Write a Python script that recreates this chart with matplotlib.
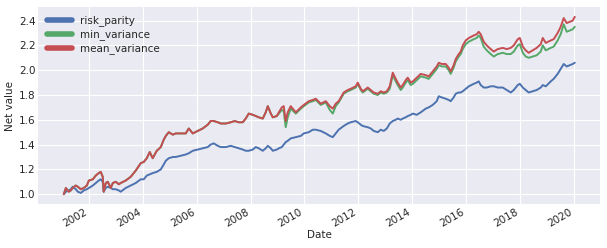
import pandas as pd
import matplotlib
matplotlib.use("Agg")
import matplotlib.pyplot as plt
import matplotlib.dates as mdates

# values
dates = [
    "2001-01-26", "2001-02-23", "2001-04-03", "2001-04-30", "2001-05-27", "2001-07-07",
    "2001-08-04", "2001-09-14", "2001-10-24", "2001-12-05", "2002-01-01", "2002-02-24",
    "2002-04-04", "2002-05-14", "2002-06-11", "2002-07-08", "2002-07-21", "2002-08-18",
    "2002-09-14", "2002-10-25", "2002-11-21", "2003-01-01", "2003-02-11", "2003-03-08",
    "2003-05-15", "2003-07-22", "2003-09-28", "2003-12-05", "2004-01-15", "2004-02-25",
    "2004-04-05", "2004-05-15", "2004-07-09", "2004-09-02", "2004-10-12", "2004-11-09",
    "2004-12-19", "2005-02-12", "2005-03-23", "2005-05-30", "2005-08-06", "2005-09-16",
    "2005-11-09", "2006-01-17", "2006-03-24", "2006-05-31", "2006-07-10", "2006-08-20",
    "2006-10-14", "2006-11-24", "2007-02-01", "2007-04-08", "2007-06-01", "2007-07-25",
    "2007-09-18", "2007-10-28", "2007-12-08", "2008-02-01", "2008-03-12", "2008-04-22",
    "2008-06-15", "2008-07-25", "2008-08-22", "2008-10-02", "2008-10-29", "2008-12-22",
    "2009-01-19", "2009-02-28", "2009-03-26", "2009-04-22", "2009-05-19", "2009-06-29",
    "2009-09-06", "2009-11-13", "2009-12-23", "2010-03-01", "2010-04-24", "2010-06-03",
    "2010-08-10", "2010-10-17", "2010-12-10", "2011-01-20", "2011-03-01", "2011-04-10",
    "2011-06-17", "2011-08-10", "2011-09-20", "2011-11-27", "2011-12-24", "2012-02-04",
    "2012-03-01", "2012-05-08", "2012-06-18", "2012-07-28", "2012-09-21", "2012-11-01",
    "2012-12-11", "2013-01-22", "2013-03-02", "2013-04-12", "2013-05-22", "2013-06-18",
    "2013-07-29", "2013-08-25", "2013-10-05", "2013-11-01", "2013-12-12", "2014-01-09",
    "2014-03-03", "2014-04-26", "2014-07-03", "2014-08-12", "2014-10-06", "2014-11-29",
    "2014-12-26", "2015-02-06", "2015-03-31", "2015-05-10", "2015-06-06", "2015-07-16",
    "2015-08-13", "2015-09-23", "2015-10-20", "2015-11-17", "2015-12-27", "2016-02-07",
    "2016-04-14", "2016-05-24", "2016-06-20", "2016-07-17", "2016-08-27", "2016-10-07",
    "2016-11-30", "2017-01-11", "2017-03-05", "2017-05-12", "2017-07-05", "2017-08-28",
    "2017-10-08", "2017-12-01", "2017-12-29", "2018-02-08", "2018-03-19", "2018-04-28",
    "2018-06-22", "2018-08-15", "2018-10-09", "2018-11-05", "2018-12-16", "2019-02-22",
    "2019-04-02", "2019-05-26", "2019-07-06", "2019-08-16", "2019-09-26", "2019-11-06",
    "2019-12-16", "2020-01-13",
]

risk_parity = [
    1.00, 1.02, 1.03, 1.04, 1.06, 1.04, 1.02, 1.01, 1.03, 1.04, 1.05, 1.07,
    1.09, 1.11, 1.12, 1.10, 1.02, 1.05, 1.06, 1.05, 1.04, 1.04, 1.03, 1.02,
    1.05, 1.07, 1.09, 1.12, 1.12, 1.15, 1.16, 1.17, 1.18, 1.20, 1.24, 1.27,
    1.29, 1.30, 1.30, 1.31, 1.32, 1.33, 1.35, 1.36, 1.37, 1.38, 1.40, 1.41,
    1.39, 1.38, 1.38, 1.39, 1.38, 1.37, 1.36, 1.35, 1.35, 1.36, 1.38, 1.37,
    1.35, 1.37, 1.39, 1.37, 1.35, 1.36, 1.37, 1.38, 1.40, 1.42, 1.43, 1.45,
    1.46, 1.47, 1.49, 1.50, 1.52, 1.52, 1.51, 1.49, 1.47, 1.46, 1.49, 1.52,
    1.55, 1.57, 1.58, 1.59, 1.58, 1.56, 1.55, 1.54, 1.53, 1.51, 1.50, 1.52,
    1.51, 1.53, 1.57, 1.59, 1.60, 1.61, 1.60, 1.61, 1.62, 1.63, 1.64, 1.65,
    1.64, 1.66, 1.69, 1.70, 1.72, 1.75, 1.79, 1.78, 1.77, 1.76, 1.75, 1.78,
    1.81, 1.82, 1.82, 1.83, 1.85, 1.87, 1.89, 1.90, 1.91, 1.88, 1.86, 1.86,
    1.87, 1.87, 1.86, 1.86, 1.84, 1.82, 1.84, 1.88, 1.89, 1.86, 1.84, 1.82,
    1.83, 1.84, 1.86, 1.88, 1.87, 1.91, 1.93, 1.97, 2.01, 2.05, 2.03, 2.04,
    2.05, 2.06,
]

mean_variance = [
    1.00, 1.05, 1.02, 1.03, 1.05, 1.07, 1.06, 1.04, 1.05, 1.07, 1.11, 1.12,
    1.15, 1.17, 1.18, 1.14, 1.02, 1.09, 1.10, 1.05, 1.09, 1.10, 1.08, 1.09,
    1.11, 1.14, 1.19, 1.25, 1.26, 1.29, 1.34, 1.29, 1.35, 1.38, 1.44, 1.47,
    1.50, 1.48, 1.49, 1.49, 1.49, 1.53, 1.49, 1.51, 1.53, 1.56, 1.59, 1.59,
    1.58, 1.57, 1.57, 1.58, 1.59, 1.58, 1.58, 1.61, 1.65, 1.64, 1.63, 1.62,
    1.61, 1.66, 1.71, 1.65, 1.62, 1.63, 1.66, 1.70, 1.71, 1.59, 1.66, 1.71,
    1.66, 1.70, 1.72, 1.75, 1.76, 1.77, 1.73, 1.75, 1.71, 1.69, 1.73, 1.75,
    1.82, 1.84, 1.85, 1.87, 1.90, 1.85, 1.83, 1.86, 1.84, 1.82, 1.81, 1.83,
    1.82, 1.83, 1.87, 1.98, 1.93, 1.90, 1.86, 1.88, 1.92, 1.94, 1.90, 1.91,
    1.94, 1.97, 1.96, 1.95, 1.99, 2.03, 2.06, 2.05, 2.05, 2.02, 1.99, 2.04,
    2.09, 2.13, 2.15, 2.20, 2.24, 2.26, 2.28, 2.29, 2.31, 2.29, 2.23, 2.20,
    2.17, 2.15, 2.17, 2.18, 2.17, 2.18, 2.20, 2.25, 2.26, 2.19, 2.16, 2.14,
    2.16, 2.18, 2.21, 2.26, 2.22, 2.24, 2.25, 2.30, 2.35, 2.42, 2.38, 2.39,
    2.40, 2.43,
]

min_variance = [
    1.00, 1.05, 1.02, 1.03, 1.05, 1.07, 1.06, 1.04, 1.05, 1.07, 1.11, 1.12,
    1.15, 1.17, 1.18, 1.14, 1.02, 1.09, 1.10, 1.05, 1.09, 1.10, 1.08, 1.09,
    1.11, 1.14, 1.19, 1.25, 1.26, 1.29, 1.34, 1.29, 1.35, 1.38, 1.44, 1.47,
    1.50, 1.48, 1.49, 1.49, 1.49, 1.53, 1.49, 1.51, 1.53, 1.56, 1.59, 1.59,
    1.58, 1.57, 1.57, 1.58, 1.59, 1.58, 1.58, 1.61, 1.65, 1.64, 1.63, 1.62,
    1.61, 1.66, 1.71, 1.65, 1.62, 1.63, 1.65, 1.68, 1.67, 1.54, 1.62, 1.69,
    1.65, 1.69, 1.71, 1.74, 1.75, 1.76, 1.72, 1.74, 1.68, 1.65, 1.71, 1.74,
    1.81, 1.83, 1.84, 1.86, 1.89, 1.84, 1.82, 1.85, 1.83, 1.81, 1.80, 1.82,
    1.81, 1.82, 1.85, 1.96, 1.91, 1.88, 1.84, 1.86, 1.90, 1.92, 1.88, 1.89,
    1.92, 1.95, 1.94, 1.93, 1.97, 2.01, 2.04, 2.03, 2.03, 2.00, 1.97, 2.02,
    2.07, 2.11, 2.13, 2.17, 2.21, 2.23, 2.25, 2.26, 2.28, 2.26, 2.19, 2.16,
    2.13, 2.11, 2.13, 2.14, 2.13, 2.13, 2.15, 2.20, 2.21, 2.14, 2.11, 2.10,
    2.11, 2.12, 2.15, 2.20, 2.16, 2.18, 2.19, 2.24, 2.29, 2.37, 2.31, 2.32,
    2.33, 2.35,
]

df = pd.DataFrame({
    "risk_parity": risk_parity,
    "min_variance": min_variance,
    "mean_variance": mean_variance,
}, index=pd.to_datetime(dates))

plt.style.use("seaborn-v0_8-darkgrid")
plt.rcParams["font.family"] = ["DejaVu Sans"]

fig = plt.figure(figsize=(6.07, 2.48), dpi=100)
ax = fig.add_axes([0.063, 0.177, 0.926, 0.795])

colors = {"risk_parity": "#4C72B0", "min_variance": "#55A868", "mean_variance": "#C44E52"}
for name in ["risk_parity", "min_variance", "mean_variance"]:
    ax.plot(df.index, df[name], color=colors[name], lw=1.4, label=name)

ax.xaxis.set_major_locator(mdates.YearLocator(2))
ax.xaxis.set_major_formatter(mdates.DateFormatter("%Y"))
ax.set_ylim(0.92, 2.51)
ax.set_yticks([1.0, 1.2, 1.4, 1.6, 1.8, 2.0, 2.2, 2.4])
ax.tick_params(labelsize=7.5, pad=2)
for lab in ax.get_xticklabels():
    lab.set_rotation(30)
    lab.set_ha("right")

ax.set_xlabel("Date", fontsize=7.5, labelpad=1)
ax.set_ylabel("Net value", fontsize=7.5, labelpad=3)

leg = ax.legend(loc="upper left", fontsize=7.5, frameon=False, handlelength=2.4,
                borderaxespad=0.4, labelspacing=0.3)
for line in leg.get_lines():
    line.set_linewidth(4)

fig.savefig("out.png", dpi=100)
